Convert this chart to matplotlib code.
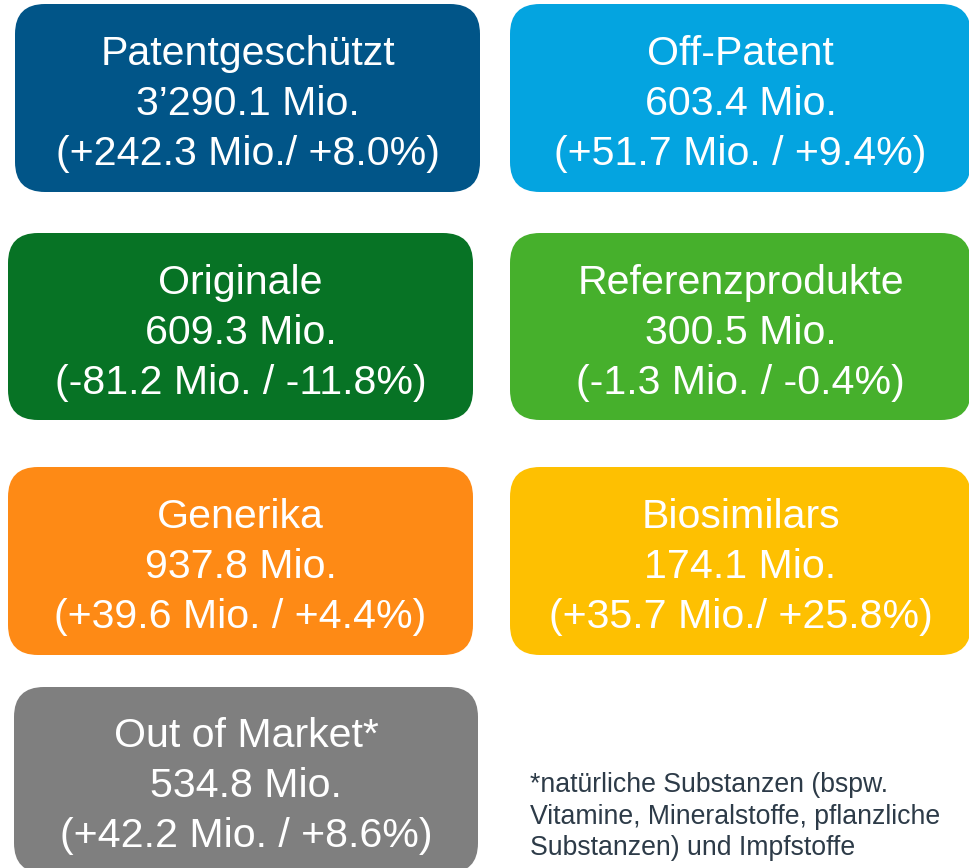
#!/usr/bin/env python3
"""Market segments as rounded tiles: volume in Mio. and change vs. prior year."""

import matplotlib

matplotlib.use("Agg")
import matplotlib.pyplot as plt
from matplotlib.patches import FancyBboxPatch

plt.rcParams["font.family"] = ["Liberation Sans", "DejaVu Sans"]

# data
SEGMENTS = [
    "Patentgeschützt",
    "Off-Patent",
    "Originale",
    "Referenzprodukte",
    "Generika",
    "Biosimilars",
    "Out of Market*",
]
VALUES = ["3’290.1", "603.4", "609.3", "300.5", "937.8", "174.1", "534.8"]
CHANGES = [
    "(+242.3 Mio./ +8.0%)",
    "(+51.7 Mio. / +9.4%)",
    "(-81.2 Mio. / -11.8%)",
    "(-1.3 Mio. / -0.4%)",
    "(+39.6 Mio. / +4.4%)",
    "(+35.7 Mio./ +25.8%)",
    "(+42.2 Mio. / +8.6%)",
]
FOOTNOTE = [
    "*natürliche Substanzen (bspw.",
    "Vitamine, Mineralstoffe, pflanzliche",
    "Substanzen) und Impfstoffe",
]

# styling / layout (pixel coordinates, y downwards)
COLORS = ["#015588", "#04A4E0", "#077325", "#46B02C", "#FE8A15", "#FEC001", "#7F7F7F"]
BOXES = [  # x0, y0, x1, y1
    (15, 4, 480, 192),
    (510, 4, 971, 192),
    (8, 233, 473, 420),
    (510, 233, 971, 420),
    (8, 467, 473, 655),
    (510, 467, 971, 655),
    (14, 687, 478, 873),
]
W, H = 969, 868
RADIUS = 30
FONT_SIZE = 29.6
FOOT_COLOR = "#2D3B48"


def main():
    fig = plt.figure(figsize=(W / 100, H / 100), dpi=100)
    ax = fig.add_axes([0, 0, 1, 1])
    ax.set_xlim(0, W)
    ax.set_ylim(H, 0)
    ax.axis("off")

    for name, value, change, color, (x0, y0, x1, y1) in zip(
        SEGMENTS, VALUES, CHANGES, COLORS, BOXES
    ):
        box = FancyBboxPatch(
            (x0 + RADIUS, y0 + RADIUS),
            (x1 - x0) - 2 * RADIUS,
            (y1 - y0) - 2 * RADIUS,
            boxstyle=f"round,pad={RADIUS},rounding_size={RADIUS}",
            facecolor=color,
            edgecolor="none",
            clip_on=False,
        )
        ax.add_patch(box)
        cx = (x0 + x1) / 2
        cy = (y0 + y1) / 2
        for offset, line in zip((-33, 17, 67), (name, f"{value} Mio.", change)):
            ax.text(
                cx,
                cy + offset,
                line,
                color="white",
                fontsize=FONT_SIZE,
                ha="center",
                va="baseline",
            )

    for i, line in enumerate(FOOTNOTE):
        ax.text(
            530,
            792 + i * 31.5,
            line,
            color=FOOT_COLOR,
            fontsize=19.2,
            ha="left",
            va="baseline",
        )

    fig.savefig("out.png", dpi=100)


if __name__ == "__main__":
    main()
